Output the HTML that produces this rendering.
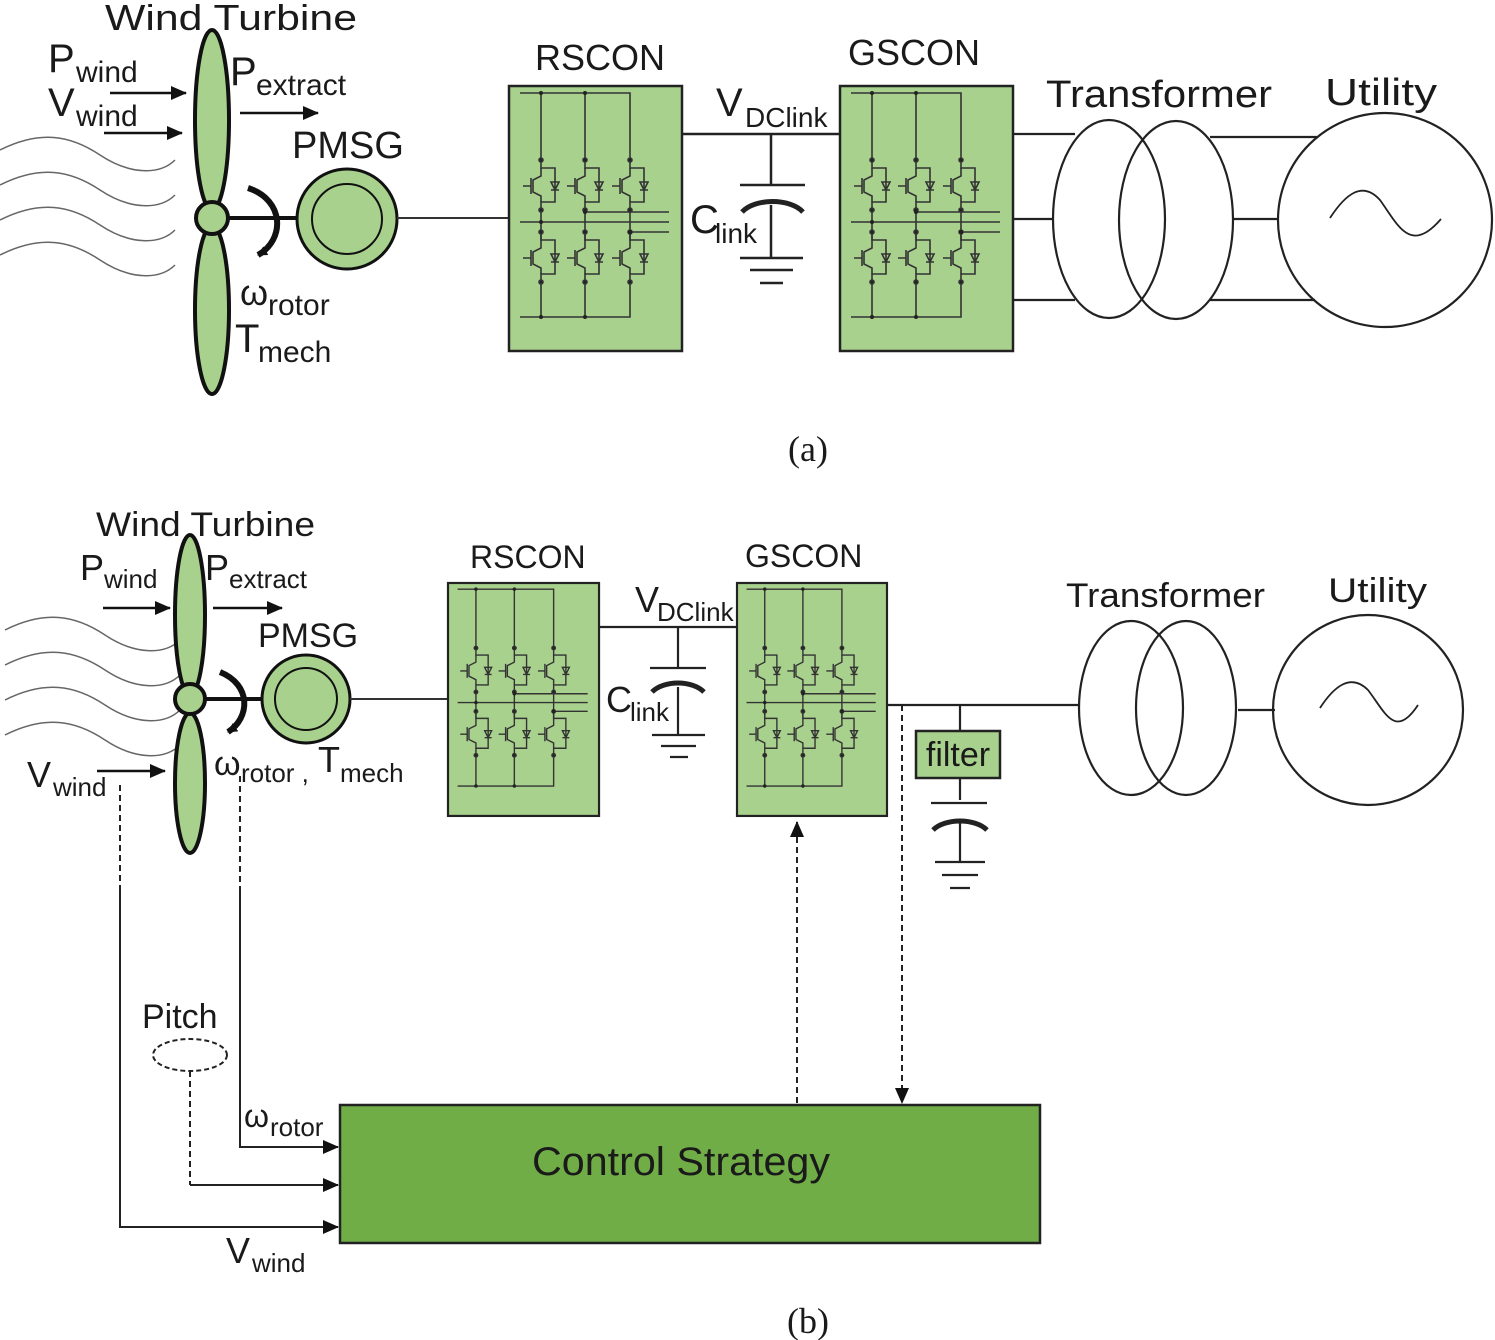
<!DOCTYPE html>
<html><head><meta charset="utf-8"><style>
html,body{margin:0;padding:0;background:#fff;}
svg{display:block;}
text{font-family:"Liberation Sans",sans-serif;fill:#1a1a1a;}
</style></head><body>
<svg width="1495" height="1340" viewBox="0 0 1495 1340" xmlns="http://www.w3.org/2000/svg">
<defs>
<marker id="ar" markerWidth="10" markerHeight="10" refX="9" refY="5" orient="auto" markerUnits="userSpaceOnUse">
<path d="M0,0 L10,5 L0,10 z" fill="#111"/></marker>
<marker id="ar2" markerWidth="16" markerHeight="14" refX="15" refY="7" orient="auto" markerUnits="userSpaceOnUse">
<path d="M0,0 L16,7 L0,14 z" fill="#111"/></marker>
<g id="igbt" stroke="#333" stroke-width="1.6" fill="none">
<path d="M0,0 V8 H14 V42 H0 V50"/>
<path d="M0,8 V16 L-8,20 V32 L0,36 V42"/>
<path d="M-10,18 V34 M-10,26 H-18"/>
<path d="M10,22 H18 L14,30 Z M10,30 H18"/>
<circle cx="0" cy="0" r="2" fill="#222"/><circle cx="0" cy="50" r="2" fill="#222"/>
</g>
<g id="conv">
<rect x="0" y="0" width="173" height="265" fill="#a9d18e" stroke="#222" stroke-width="2.5"/>
<g stroke="#333" stroke-width="1.6" fill="none">
<path d="M11,7 H121 V74 M32,7 V74 M76,7 V74"/>
<path d="M11,231 H121 V196 M32,231 V196 M76,231 V196"/>
<path d="M32,124 V154 M76,124 V154 M121,124 V154"/>
<path d="M11,136 H160 M76,126 H160 M121,146 H160"/>
</g>
<use href="#igbt" x="32" y="74"/><use href="#igbt" x="76" y="74"/><use href="#igbt" x="121" y="74"/>
<use href="#igbt" x="32" y="146"/><use href="#igbt" x="76" y="146"/><use href="#igbt" x="121" y="146"/>
<g fill="#222"><circle cx="32" cy="7" r="2"/><circle cx="76" cy="7" r="2"/><circle cx="32" cy="231" r="2"/><circle cx="76" cy="231" r="2"/><circle cx="32" cy="136" r="2"/><circle cx="76" cy="126" r="2"/><circle cx="121" cy="146" r="2"/></g>
</g>
<g id="waves" fill="none" stroke="#666" stroke-width="1.5">
<path d="M0,150 C40,130 70,135 100,155 C130,175 160,175 175,160"/>
<path d="M0,185 C40,165 70,170 100,190 C130,210 160,210 175,195"/>
<path d="M0,220 C40,200 70,205 100,225 C130,245 160,245 175,230"/>
<path d="M0,255 C40,235 70,240 100,260 C130,280 160,280 175,265"/>
</g>
</defs>

<!-- ===== (a) ===== -->
<use href="#waves" x="0" y="0"/>
<line x1="228" y1="218" x2="310" y2="218" stroke="#111" stroke-width="4"/>
<ellipse cx="212" cy="120" rx="17" ry="90" fill="#a9d18e" stroke="#111" stroke-width="4"/>
<ellipse cx="212" cy="310" rx="17" ry="84" fill="#a9d18e" stroke="#111" stroke-width="4"/>
<circle cx="212" cy="218" r="16" fill="#a9d18e" stroke="#111" stroke-width="4"/>
<path d="M248,188 C285,200 285,240 258,255" fill="none" stroke="#111" stroke-width="6" marker-end="url(#ar)"/>
<circle cx="347" cy="219" r="50" fill="#a9d18e" stroke="#111" stroke-width="3"/>
<circle cx="347" cy="219" r="35" fill="none" stroke="#111" stroke-width="2"/>
<line x1="397" y1="218" x2="509" y2="218" stroke="#333" stroke-width="2"/>
<line x1="110" y1="93" x2="186" y2="93" stroke="#111" stroke-width="2.5" marker-end="url(#ar2)"/>
<line x1="104" y1="133" x2="182" y2="133" stroke="#111" stroke-width="2.5" marker-end="url(#ar2)"/>
<line x1="240" y1="113" x2="318" y2="113" stroke="#111" stroke-width="2.5" marker-end="url(#ar2)"/>
<text x="105" y="30" font-size="36" textLength="252" lengthAdjust="spacingAndGlyphs">Wind Turbine</text>
<text x="48" y="72" font-size="40">P</text><text x="76" y="82" font-size="30">wind</text>
<text x="48" y="116" font-size="40">V</text><text x="76" y="126" font-size="30">wind</text>
<text x="230" y="85" font-size="40">P</text><text x="256" y="95" font-size="30">extract</text>
<text x="292" y="158" font-size="38">PMSG</text>
<text x="240" y="305" font-size="36">ω</text><text x="268" y="315" font-size="30">rotor</text>
<text x="235" y="352" font-size="40">T</text><text x="258" y="362" font-size="30">mech</text>

<use href="#conv" x="509" y="86"/>
<use href="#conv" x="840" y="86"/>
<text x="535" y="70" font-size="36">RSCON</text>
<text x="848" y="65" font-size="36">GSCON</text>
<g stroke="#222" stroke-width="2.5" fill="none">
<line x1="682" y1="134" x2="840" y2="134"/>
<line x1="771" y1="134" x2="771" y2="185"/>
<line x1="740" y1="185" x2="805" y2="185"/>
<path d="M742,212 C755,198 790,198 803,212" stroke-width="5"/>
<line x1="771" y1="205" x2="771" y2="258"/>
<line x1="740" y1="258" x2="803" y2="258"/>
<line x1="750" y1="270" x2="793" y2="270"/>
<line x1="760" y1="283" x2="783" y2="283"/>
</g>
<text x="716" y="116" font-size="40">V</text><text x="745" y="127" font-size="28">DClink</text>
<text x="690" y="233" font-size="40">C</text><text x="715" y="243" font-size="28">link</text>

<g stroke="#222" stroke-width="2.2" fill="none">
<path d="M1013,134 H1075 M1013,219 H1053 M1013,300 H1075"/>
<path d="M1210,137 H1317 M1233,219 H1277 M1210,300 H1315"/>
<ellipse cx="1109" cy="219" rx="56" ry="99"/>
<ellipse cx="1176" cy="220" rx="57" ry="99"/>
<circle cx="1385" cy="220" r="107"/>
<path d="M1330,218 C1345,195 1362,180 1380,200 C1398,225 1410,255 1441,219" stroke-width="1.8"/>
</g>
<text x="1046" y="107" font-size="38" textLength="226" lengthAdjust="spacingAndGlyphs">Transformer</text>
<text x="1325" y="105" font-size="38" textLength="112" lengthAdjust="spacingAndGlyphs">Utility</text>
<text x="808" y="461" font-size="36" text-anchor="middle" style="font-family:'Liberation Serif',serif">(a)</text>

<!-- ===== (b) ===== -->
<use href="#waves" x="5" y="480"/>
<line x1="205" y1="699" x2="262" y2="699" stroke="#111" stroke-width="4"/>
<ellipse cx="190" cy="615" rx="15" ry="80" fill="#a9d18e" stroke="#111" stroke-width="4"/>
<ellipse cx="190" cy="783" rx="15" ry="70" fill="#a9d18e" stroke="#111" stroke-width="4"/>
<circle cx="190" cy="699" r="15" fill="#a9d18e" stroke="#111" stroke-width="4"/>
<path d="M220,672 C252,685 250,718 228,732" fill="none" stroke="#111" stroke-width="6" marker-end="url(#ar)"/>
<circle cx="306" cy="699" r="44" fill="#a9d18e" stroke="#111" stroke-width="3"/>
<circle cx="306" cy="699" r="31" fill="none" stroke="#111" stroke-width="2"/>
<line x1="350" y1="699" x2="448" y2="699" stroke="#333" stroke-width="2"/>
<line x1="103" y1="608" x2="170" y2="608" stroke="#111" stroke-width="2.5" marker-end="url(#ar2)"/>
<line x1="213" y1="608" x2="282" y2="608" stroke="#111" stroke-width="2.5" marker-end="url(#ar2)"/>
<line x1="97" y1="771" x2="165" y2="771" stroke="#111" stroke-width="2.5" marker-end="url(#ar2)"/>
<text x="96" y="536" font-size="34" textLength="219" lengthAdjust="spacingAndGlyphs">Wind Turbine</text>
<text x="80" y="580" font-size="36">P</text><text x="104" y="588" font-size="26">wind</text>
<text x="205" y="580" font-size="36">P</text><text x="229" y="588" font-size="26">extract</text>
<text x="258" y="647" font-size="34">PMSG</text>
<text x="27" y="787" font-size="36">V</text><text x="53" y="796" font-size="26">wind</text>
<text x="214" y="775" font-size="34">ω</text><text x="241" y="782" font-size="26">rotor ,</text>
<text x="318" y="772" font-size="36">T</text><text x="340" y="782" font-size="26">mech</text>

<use href="#conv" transform="translate(448,583) scale(0.873,0.879)"/>
<use href="#conv" transform="translate(737,583) scale(0.867,0.879)"/>
<text x="470" y="568" font-size="32">RSCON</text>
<text x="745" y="567" font-size="32">GSCON</text>
<g stroke="#222" stroke-width="2.2" fill="none">
<line x1="599" y1="627" x2="737" y2="627"/>
<line x1="678" y1="627" x2="678" y2="668"/>
<line x1="650" y1="668" x2="706" y2="668"/>
<path d="M652,692 C664,680 692,680 704,692" stroke-width="5"/>
<line x1="678" y1="687" x2="678" y2="735"/>
<line x1="652" y1="735" x2="705" y2="735"/>
<line x1="661" y1="746" x2="696" y2="746"/>
<line x1="670" y1="757" x2="688" y2="757"/>
<line x1="887" y1="705" x2="1078" y2="705"/>
<line x1="960" y1="705" x2="960" y2="731"/>
<line x1="960" y1="778" x2="960" y2="800"/>
<line x1="931" y1="803" x2="987" y2="803"/>
<path d="M933,830 C945,818 975,818 987,830" stroke-width="5"/>
<line x1="960" y1="823" x2="960" y2="862"/>
<line x1="935" y1="862" x2="985" y2="862"/>
<line x1="942" y1="875" x2="978" y2="875"/>
<line x1="950" y1="888" x2="970" y2="888"/>
<path d="M1238,710 H1275"/>
<ellipse cx="1131" cy="708" rx="52" ry="87"/>
<ellipse cx="1186" cy="708" rx="50" ry="87"/>
<circle cx="1368" cy="710" r="95"/>
<path d="M1320,708 C1333,688 1350,672 1368,690 C1385,712 1395,740 1418,705" stroke-width="1.8"/>
</g>
<text x="635" y="612" font-size="36">V</text><text x="657" y="621" font-size="26">DClink</text>
<text x="606" y="712" font-size="36">C</text><text x="630" y="721" font-size="26">link</text>
<rect x="916" y="731" width="84" height="47" fill="#a9d18e" stroke="#222" stroke-width="2.5"/>
<text x="958" y="766" font-size="34" text-anchor="middle">filter</text>
<text x="1066" y="607" font-size="34" textLength="199" lengthAdjust="spacingAndGlyphs">Transformer</text>
<text x="1328" y="602" font-size="34" textLength="99" lengthAdjust="spacingAndGlyphs">Utility</text>

<rect x="340" y="1105" width="700" height="138" fill="#70ad47" stroke="#222" stroke-width="2.5"/>
<text x="532" y="1175" font-size="40" textLength="298" lengthAdjust="spacingAndGlyphs">Control Strategy</text>
<g fill="none" stroke="#222" stroke-width="2">
<path d="M120,785 V890" stroke-dasharray="6,4"/>
<path d="M120,890 V1227 H338" marker-end="url(#ar2)"/>
<path d="M240,776 V890" stroke-dasharray="6,4"/>
<path d="M240,890 V1147 H338" marker-end="url(#ar2)"/>
<ellipse cx="190" cy="1055" rx="37" ry="16" stroke-dasharray="5,3"/>
<path d="M190,1071 V1185" stroke-dasharray="6,4"/>
<path d="M190,1185 H338" marker-end="url(#ar2)"/>
<path d="M797,1103 V822" stroke-dasharray="6,4" marker-end="url(#ar2)"/>
<path d="M902,705 V1103" stroke-dasharray="6,4" marker-end="url(#ar2)"/>
</g>
<text x="142" y="1028" font-size="34">Pitch</text>
<text x="244" y="1127" font-size="32">ω</text><text x="270" y="1136" font-size="26">rotor</text>
<text x="226" y="1263" font-size="36">V</text><text x="252" y="1272" font-size="26">wind</text>
<text x="808" y="1333" font-size="36" text-anchor="middle" style="font-family:'Liberation Serif',serif">(b)</text>
</svg>
</body></html>
